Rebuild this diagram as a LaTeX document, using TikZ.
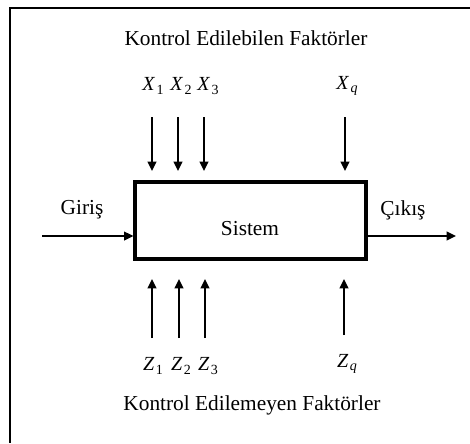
\documentclass[tikz,border=0pt]{standalone}
\usepackage{fontspec}
\setmainfont{Liberation Serif}
\usetikzlibrary{arrows.meta}
\newcommand{\vlab}[2]{\textit{#1}\kern1.2pt\raisebox{-0.4ex}{\fontsize{10.5}{12}\selectfont #2}}
\begin{document}
\begin{tikzpicture}[x=0.75pt,y=-0.75pt,
  txt/.style={font=\fontsize{16}{18}\selectfont, inner sep=0pt},
  mlabel/.style={font=\fontsize{15}{17}\selectfont, inner sep=0pt},
  arr/.style={line width=1.3pt, -{Triangle[length=7pt,width=6.5pt]}},
  sysbox/.style={draw, line width=2.4pt, minimum width=231*0.75pt, minimum height=77*0.75pt, inner sep=0pt}
]
\useasboundingbox (0,0) rectangle (470,443);
% frame (only top and left visible)
\draw[line width=1.8pt] (470,8) -- (10,8) -- (10,443);

\node[txt] (top) at (246,38) {Kontrol Edilebilen Faktörler};
\node[txt] (bot) at (252,405) {Kontrol Edilemeyen Faktörler};

\node[sysbox] (sys) at (250.5,220.5) {};
\node[txt] (sistem) at (250,229) {Sistem};

\node[txt] (giris) at (82,210) {Giriş};
\node[txt] (cikis) at (403,210) {Çıkış};

\coordinate (in) at (42,236);
\coordinate (out) at (456,236);
\draw[arr] (in) -- (in -| sys.west);
\draw[arr] (out -| sys.east) -- (out);

% controllable factors
\node[mlabel] (x1) at (153,86) {\vlab{X}{1}};
\node[mlabel] (x2) at (181,86) {\vlab{X}{2}};
\node[mlabel] (x3) at (208,86) {\vlab{X}{3}};
\node[mlabel] (xq) at (347,86) {\vlab{X}{\textit{q}}};
\foreach \n/\x in {a/152,b/178,c/204,d/345}{
  \coordinate (xs\n) at (\x,117);
  \coordinate (xe\n) at (\x,171);
  \draw[arr] (xs\n) -- (xe\n);
}

% uncontrollable factors
\node[mlabel] (z1) at (153,366) {\vlab{Z}{1}};
\node[mlabel] (z2) at (181,366) {\vlab{Z}{2}};
\node[mlabel] (z3) at (208,366) {\vlab{Z}{3}};
\node[mlabel] (zq) at (347,364) {\vlab{Z}{\textit{q}}};
\foreach \n/\x/\y in {a/152/338,b/179/338,c/205/338,d/344/335}{
  \coordinate (zs\n) at (\x,\y);
  \coordinate (ze\n) at (\x,279);
  \draw[arr] (zs\n) -- (ze\n);
}
\end{tikzpicture}
\end{document}
